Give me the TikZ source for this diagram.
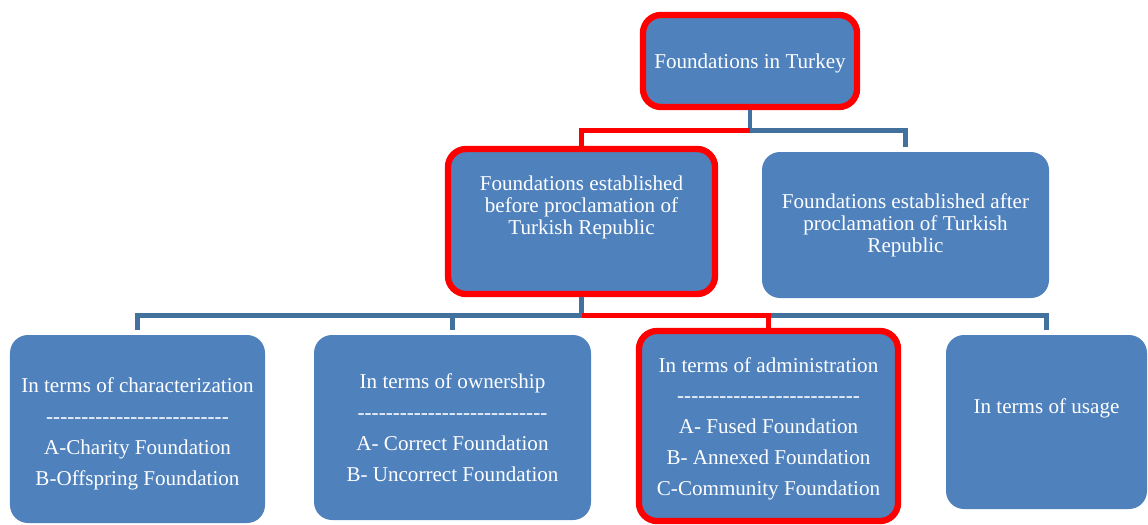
\documentclass[tikz,border=0pt]{standalone}
\usepackage{fontspec}
\setmainfont{Liberation Serif}[Ligatures=TeXOff]
\usetikzlibrary{positioning}

\definecolor{boxblue}{HTML}{4F81BD}
\definecolor{lineblue}{HTML}{41719C}
\definecolor{markred}{HTML}{FF0000}

\begin{document}
\begin{tikzpicture}[node distance=2cm,on grid,
    box/.style={fill=boxblue, text=white, rounded corners=0.36cm, align=center,
        inner sep=2pt, outer sep=3pt, font=\fontsize{12}{12.5}\selectfont},
    lowbox/.style={box, font=\fontsize{12}{17.6}\selectfont},
    marked/.style={draw=markred, line width=3.6pt, outer sep=1.8pt},
    link/.style={draw=lineblue, line width=2.8pt},
    redlink/.style={draw=markred, line width=2.8pt}]
    \useasboundingbox (0,0) rectangle (22.96,-10.48);
    \node[box, marked, minimum width=4.28cm, minimum height=1.84cm] (turkey) at (15.0,-1.22) {\rule{0pt}{11pt}Foundations in Turkey};
    \node[box, marked, minimum width=5.34cm, minimum height=2.9cm] (before) [below left=3.21cm and 3.37cm of turkey]
        {Foundations established\\before proclamation of\\Turkish Republic\\[5.7pt]\mbox{}};
    \node[box, minimum width=5.74cm, minimum height=2.92cm] (after) [below right=3.28cm and 3.11cm of turkey]
        {Foundations established after\\proclamation of Turkish\\Republic};
    \node[lowbox, minimum width=5.1cm, minimum height=3.76cm] (character) [below left=4.15cm and 8.88cm of before]
        {\rule{0pt}{14pt}In terms of characterization\\--------------------------\\A-Charity Foundation\\B-Offspring Foundation};
    \node[lowbox, minimum width=5.54cm, minimum height=3.7cm] (ownership) [below left=4.12cm and 2.58cm of before]
        {In terms of ownership\\---------------------------\\A- Correct Foundation\\B- Uncorrect Foundation};
    \node[lowbox, marked, minimum width=5.18cm, minimum height=3.8cm] (admin) [below right=4.09cm and 3.74cm of before]
        {\rule{0pt}{11.6pt}In terms of administration\\--------------------------\\A- Fused Foundation\\B- Annexed Foundation\\C-Community Foundation};
    \node[lowbox, minimum width=4.02cm, minimum height=3.48cm] (usage) [below right=4.01cm and 9.3cm of before]
        {In terms of usage\\\mbox{}};
    % upper level
    \coordinate (bar1) at ([yshift=-0.4cm]turkey.south);
    \path[link] (turkey.south) -- (bar1) -| (after.north);
    \path[redlink] (bar1) -| (before.north);
    % lower level
    \coordinate (bar2) at ([yshift=-0.36cm]before.south);
    \path[link] (before.south) -- (bar2) -| (character.north);
    \path[link] (bar2) -| (ownership.north);
    \path[link] (bar2) -| (usage.north);
    \path[redlink] (bar2) -| (admin.north);
\end{tikzpicture}
\end{document}
